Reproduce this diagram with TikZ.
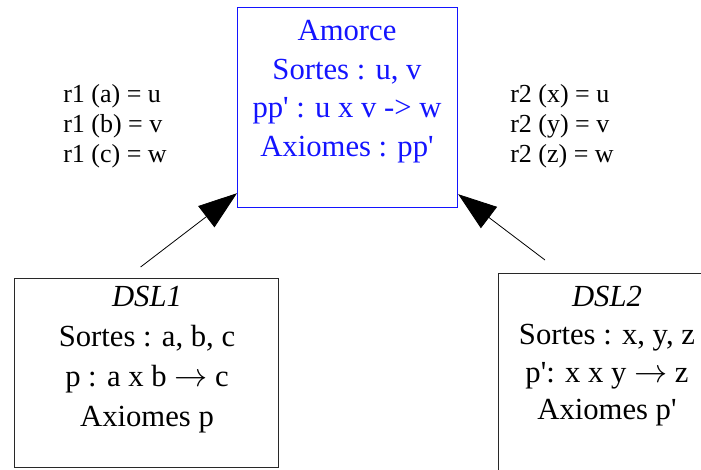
\documentclass[tikz,border=0pt]{standalone}
\usepackage{fontspec}
\setmainfont{Liberation Serif}
\usetikzlibrary{arrows.meta,positioning}
\definecolor{amorceblue}{RGB}{20,20,255}
\definecolor{boxgray}{RGB}{40,40,40}
\newcommand{\sq}{\textquotesingle}

\begin{document}
\begin{tikzpicture}[
  x=0.75pt,y=-0.75pt,
  blockbox/.style={rectangle,draw=boxgray,line width=0.9pt,inner sep=0pt,anchor=north west},
  amorcebox/.style={blockbox,draw=amorceblue},
  blocktext/.style={align=center,inner sep=0pt,anchor=north,font=\fontsize{23}{#1}\selectfont},
  blocktext/.default=29,
  maptext/.style={align=left,inner sep=0pt,anchor=north west,font=\fontsize{19.5}{22.6}\selectfont},
  arr/.style={-{Triangle[length=29pt,width=20pt]},line width=0.6pt}
]
\useasboundingbox (0,0) rectangle (701,469);
\clip (0,0) rectangle (701,469);

% boxes
\node[amorcebox,minimum width=165pt,minimum height=150pt] (amorce) at (237,7) {};
\node[blockbox,minimum width=198pt,minimum height=141.75pt] (dsl1) at (14,278) {};
\node[blockbox,minimum width=160.5pt,minimum height=157.5pt] (dsl2) at (498,273) {};

% box contents
\node[blocktext,text=amorceblue] (amorcetxt) at (347,20)
  {Amorce\\Sortes : u, v\\pp\sq{} : u x v -> w\\Axiomes : pp\sq};
\node[blocktext=30] (dsl1txt) at (147,286)
  {\textit{DSL1}\\Sortes : a, b, c\\p : a x b $\rightarrow$ c\\Axiomes p};
\node[blocktext=28.3] (dsl2txt) at (607,286)
  {\textit{DSL2}\\Sortes : x, y, z\\p\sq: x x y $\rightarrow$ z\\Axiomes p\sq};

% mappings
\node[maptext] (rone) at (63,84) {r1 (a) = u\\r1 (b) = v\\r1 (c) = w};
\node[maptext] (rtwo) at (510,84) {r2 (x) = u\\r2 (y) = v\\r2 (z) = w};

\draw[arr] ([shift={(-6,-11)}]dsl1.north) -- ([shift={(0,-15)}]amorce.south west);
\draw[arr] ([shift={(47,-13)}]dsl2.north west) -- ([shift={(0,-14)}]amorce.south east);
\end{tikzpicture}
\end{document}
